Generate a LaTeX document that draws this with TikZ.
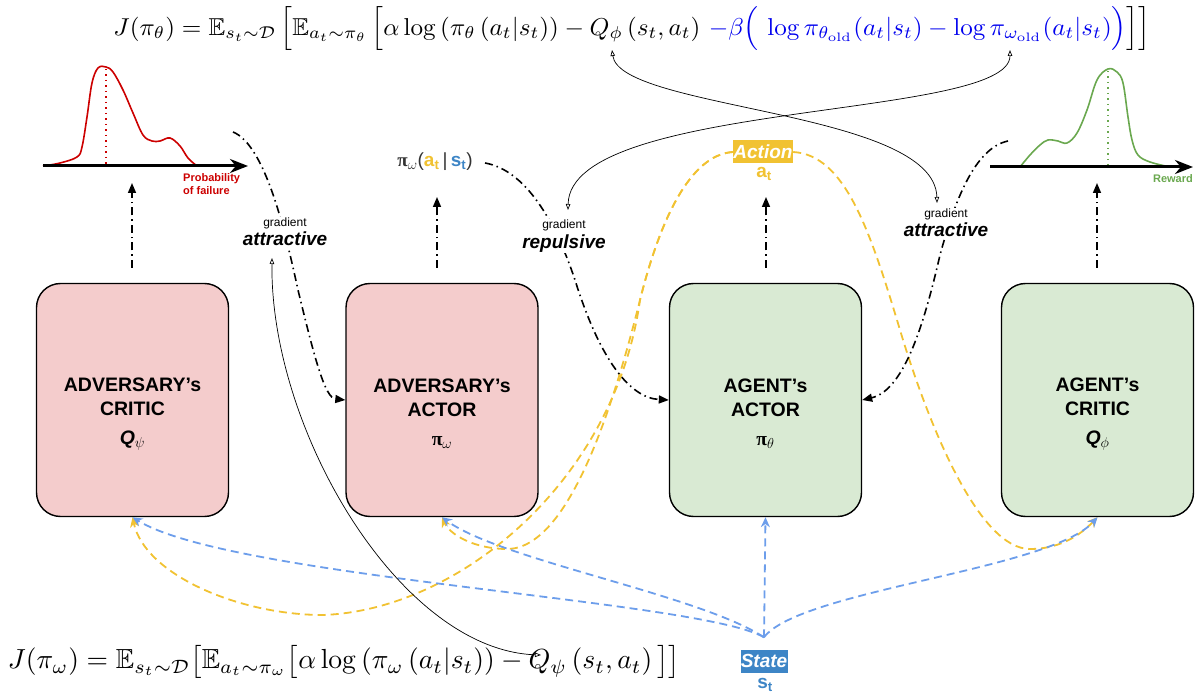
\documentclass[tikz,border=0pt]{standalone}
\usepackage{amsmath,amssymb}
\usepackage{graphicx}
\usepackage[no-math]{fontspec}
\setmainfont{Liberation Sans}
\newfontfamily\serifpi{Liberation Serif}
\usetikzlibrary{arrows.meta}
\definecolor{advfill}{HTML}{F4CCCC}
\definecolor{agfill}{HTML}{D9EAD3}
\definecolor{ayel}{HTML}{F1C232}
\definecolor{sblue}{HTML}{3D85C6}
\definecolor{lblue}{HTML}{6D9EEB}
\definecolor{dred}{HTML}{CC0000}
\definecolor{dgreen}{HTML}{6AA84F}
\definecolor{fblue}{HTML}{0000EE}
\newcommand{\bpi}{{\serifpi\bfseries π}}
\begin{document}
\begin{tikzpicture}[x=1pt,y=-1pt,
  box/.style={draw=black,line width=1.4pt,rounded corners=24pt,minimum width=192pt,minimum height=233pt,inner sep=0pt},
  adv/.style={box,fill=advfill},
  agt/.style={box,fill=agfill},
  boxlabel/.style={align=center,font=\fontsize{19.5}{24}\selectfont\bfseries},
  dd/.style={line width=1.6pt,dash pattern=on 8pt off 4pt on 1.5pt off 4pt},
  ddarrow/.style={dd,-{Triangle[length=10pt,width=8pt]}},
  ydash/.style={draw=ayel,line width=1.8pt,dash pattern=on 8pt off 5pt,-{Stealth[length=10pt,width=9pt]}},
  bdash/.style={draw=lblue,line width=1.8pt,dash pattern=on 8pt off 5pt,-{Stealth[length=10pt,width=9pt]}},
  thinarr/.style={line width=0.7pt,{Triangle[open,length=6pt,width=4.5pt]}-{Triangle[open,length=6pt,width=4.5pt]}},
  grad/.style={fill=white,inner sep=1pt,align=center,font=\fontsize{12}{14}\selectfont},
  axisarr/.style={line width=3pt,-{Stealth[length=18pt,width=14pt]}},
]
\useasboundingbox (0,0) rectangle (1203,700);

% ---------- formulas ----------
\node[inner sep=0pt] (jt) at (632,29) {\resizebox*{1037pt}{44pt}{$J(\pi_\theta) = \mathbb{E}_{s_t\sim\mathcal{D}}\,\Big[\mathbb{E}_{a_t\sim\pi_\theta}\,\Big[\alpha\log\left(\pi_\theta\left(a_t|s_t\right)\right) - Q_\phi\left(s_t,a_t\right)\,{\color{fblue}-\beta\Big(\,\log\pi_{\theta_{\mathrm{old}}}(a_t|s_t) - \log\pi_{\omega_{\mathrm{old}}}(a_t|s_t)\Big)}\Big]\Big]$}};
\node[inner sep=0pt] (jb) at (344,662) {\resizebox{672pt}{!}{$J(\pi_\omega) = \mathbb{E}_{s_t\sim\mathcal{D}}\big[\mathbb{E}_{a_t\sim\pi_\omega}\big[\alpha\log\left(\pi_\omega\left(a_t|s_t\right)\right) - Q_\psi\left(s_t,a_t\right)\big]\big]$}};
\coordinate (qphi) at (612,50);
\coordinate (piwold) at (1010,50);
\coordinate (qpsi) at (541,655);

% ---------- distributions ----------
\draw[dred,line width=1.6pt] plot[smooth,tension=0.6] coordinates {(43,166) (60,163) (77,157) (82,147) (87,117) (92,83) (98,68) (106,67) (113,72) (123,90) (133,113) (143,135) (152,141) (160,141) (170,138) (180,146) (188,158) (197,166)};
\draw[dred,line width=1.6pt,dash pattern=on 1.5pt off 4pt] (106,69) -- (106,166);
\draw[axisarr] (43,166) -- (248,166);
\node[anchor=north west,align=left,text=dred,font=\fontsize{11}{13}\selectfont\bfseries,inner sep=0pt] (pfail) at (183,173) {Probability\\of failure};

\draw[dgreen,line width=1.6pt] plot[smooth,tension=0.6] coordinates {(1020,167) (1030,155) (1040,145) (1048,140) (1058,141) (1067,143) (1077,133) (1087,110) (1097,80) (1108,69) (1117,72) (1123,83) (1128,117) (1132,140) (1138,155) (1150,162) (1170,167)};
\draw[dgreen,line width=1.6pt,dash pattern=on 1.5pt off 4pt] (1108,71) -- (1108,167);
\draw[axisarr] (990,167) -- (1193,167);
\node[anchor=north east,text=dgreen,font=\fontsize{11}{13}\selectfont\bfseries,inner sep=0pt] (rew) at (1193,174) {Reward};

% ---------- boxes ----------
\node[adv] (ac) at (132.5,400) {};
\node[adv] (aa) at (442,400) {};
\node[agt] (ga) at (765.5,400) {};
\node[agt] (gc) at (1097.5,400) {};
\node[boxlabel] (acl) at (132.5,414) {ADVERSARY's\\CRITIC\\[5pt]\textit{Q}${}_{\psi}$};
\node[boxlabel] (aal) at (442,414) {ADVERSARY's\\ACTOR\\[5pt]\bpi${}_{\omega}$};
\node[boxlabel] (gal) at (765.5,414) {AGENT's\\ACTOR\\[5pt]\bpi${}_{\theta}$};
\node[boxlabel] (gcl) at (1097.5,414) {AGENT's\\CRITIC\\[5pt]\textit{Q}${}_{\phi}$};

% ---------- outputs ----------
\coordinate (acb) at (132,268); \coordinate (act) at (132,183);
\coordinate (aab) at (437,268); \coordinate (aat) at (437,197);
\coordinate (gab) at (766,268); \coordinate (gat) at (766,197);
\coordinate (gcb) at (1097,268); \coordinate (gct) at (1097,183);
\draw[ddarrow] (acb) -- (act);
\draw[ddarrow] (aab) -- (aat);
\draw[ddarrow] (gab) -- (gat);
\draw[ddarrow] (gcb) -- (gct);

\node[inner sep=0pt,text=black!80,font=\fontsize{19}{19}\selectfont] (piw) at (435,162) {\bpi${}_{\omega}$(\textcolor{ayel}{\textbf{a}\textsubscript{\textbf{t}}}\,|\,\textcolor{sblue}{\textbf{s}\textsubscript{\textbf{t}}})};

\node[fill=ayel,text=white,inner sep=0pt,minimum width=60pt,minimum height=23pt,font=\fontsize{19}{19}\selectfont\bfseries\itshape] (actn) at (763,152) {Action};
\node[inner sep=0pt,text=ayel,font=\fontsize{19}{19}\selectfont\bfseries] (atl) at (764,174) {a\textsubscript{t}};
\node[fill=sblue,text=white,inner sep=0pt,minimum width=47pt,minimum height=23pt,font=\fontsize{19}{19}\selectfont\bfseries\itshape] (st) at (764,661) {State};
\node[inner sep=0pt,text=sblue,font=\fontsize{19}{19}\selectfont\bfseries] (stl) at (765,685) {s\textsubscript{t}};

% ---------- yellow action connectors ----------
\draw[ydash] (actn.west) .. controls (690,155) and (660,220) .. (640,300) .. controls (615,480) and (460,610) .. (323,615) .. controls (240,615) and (145,575) .. (ac.south);
\draw[ydash] (actn.west) .. controls (690,155) and (660,220) .. (640,300) .. controls (615,400) and (570,549) .. (507,549) .. controls (475,549) and (450,535) .. (aa.south);
\draw[ydash] (actn.east) .. controls (845,155) and (870,230) .. (900,330) .. controls (930,430) and (980,549) .. (1030,549) .. controls (1065,549) and (1085,530) .. (gc.south);

% ---------- blue state connectors ----------
\draw[bdash] ([yshift=12pt]st.north) .. controls (700,600) and (230,578) .. (ac.south);
\draw[bdash] ([yshift=12pt]st.north) .. controls (700,595) and (500,560) .. (aa.south);
\draw[bdash] ([yshift=12pt]st.north) -- (ga.south);
\draw[bdash] ([yshift=12pt]st.north) .. controls (800,590) and (1050,570) .. (gc.south);

% ---------- gradient dash-dot connectors ----------
\coordinate (dd1s) at (233,132);
\coordinate (dd2s) at (485,163);
\coordinate (dd3s) at (1008,141);
\draw[ddarrow] (dd1s) .. controls (265,145) and (285,230) .. (298,290) .. controls (315,360) and (325,398) .. (aa.west);
\draw[ddarrow] (dd2s) .. controls (525,170) and (555,220) .. (575,280) .. controls (600,360) and (630,398) .. (ga.west);
\draw[ddarrow] (dd3s) .. controls (975,148) and (955,200) .. (940,255) .. controls (925,320) and (905,390) .. (ga.east);

\node[grad] (g1) at (285,232) {gradient\\[2pt]{\fontsize{19}{14}\selectfont\bfseries\itshape attractive}};
\node[grad] (g2) at (564,236) {gradient\\[2pt]{\fontsize{19}{14}\selectfont\bfseries\itshape repulsive}};
\node[grad] (g3) at (946,223) {gradient\\[2pt]{\fontsize{19}{14}\selectfont\bfseries\itshape attractive}};

% ---------- thin formula links ----------
\coordinate (g1tip) at (272,258);
\coordinate (g2tip) at (568,210);
\coordinate (g3tip) at (937,203);
\draw[thinarr] (g1tip) .. controls (270,430) and (400,650) .. (qpsi);
\draw[thinarr] (qphi) .. controls (620,110) and (935,110) .. (g3tip);
\draw[thinarr] (piwold) .. controls (1010,120) and (570,100) .. (g2tip);
\end{tikzpicture}
\end{document}
